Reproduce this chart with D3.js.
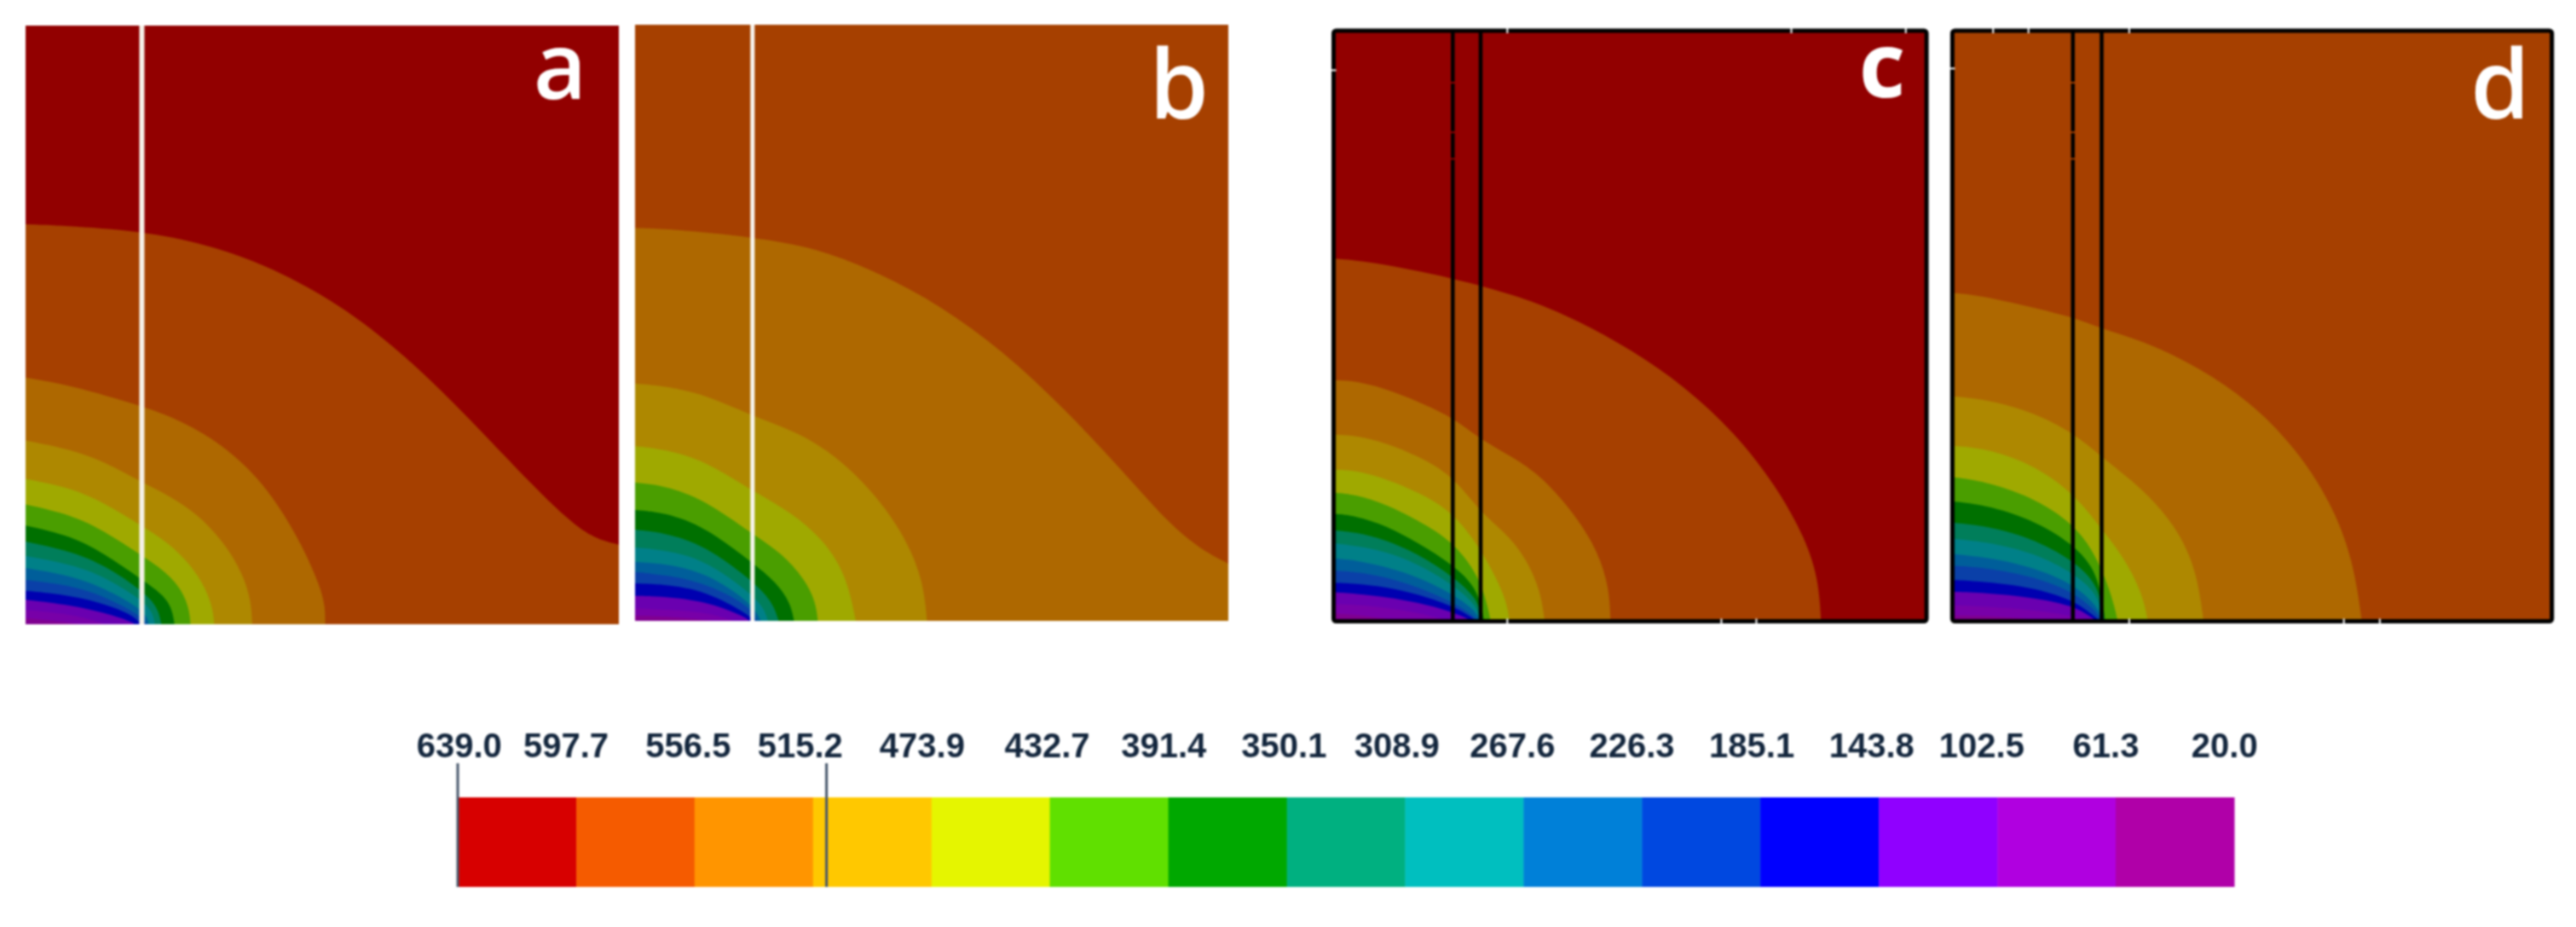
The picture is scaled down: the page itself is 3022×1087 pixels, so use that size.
<!DOCTYPE html>
<html>
<head>
<meta charset="utf-8">
<script src="https://cdn.jsdelivr.net/npm/d3@7"></script>
<style>
  html, body { margin: 0; padding: 0; background: #fff; }
  svg { display: block; filter: blur(0.9px); }
</style>
</head>
<body>
<svg id="chart"></svg>
<script>
// values on the colour bar, high to low
const legendValues = [639.0, 597.7, 556.5, 515.2, 473.9, 432.7, 391.4, 350.1, 308.9, 267.6, 226.3, 185.1, 143.8, 102.5, 61.3, 20.0];
const legendColors = ["#d70000", "#f55b00", "#ff9500", "#ffc800", "#e5f500", "#60e000", "#00a800", "#00b080", "#00bfbf", "#0080d8", "#0048e0", "#0000ff", "#9000ff", "#b000e0", "#b000a8"];
const markerValues = [639.0, 510.5];

// the same steps as they look in the shaded field
const fieldColors = ["#920000", "#a64000", "#ae6800", "#ae8800", "#9fa900", "#4a9e00", "#007000", "#007e5a", "#008088", "#005e9a", "#0a40a8", "#0000b0", "#6a00b0", "#7800a8", "#800090"];

// isotherms, [x, depth above bottom] in % of the panel
const contoursA = [
  [[0,66.8],[6.1,66.6],[19.4,65.7],[30.5,63.5],[40.3,60.1],[51.4,54.4],[61.8,46.8],[72.3,37],[82.7,26],[91.8,17],[96,14.3],[100,13.3]],
  [[0,41.2],[7.7,39.9],[19.1,36.6],[25.4,34.4],[31.6,31],[36.9,26.8],[41.7,21.4],[46.5,13.5],[49.6,6.5],[50.5,3],[50.5,0]],
  [[0,30.7],[7.7,29.2],[13.4,27.1],[19.1,24],[24.4,21.4],[29.2,18.2],[33.5,13.6],[36.6,8.5],[38,4],[38.2,0]],
  [[0,24.3],[7.7,22.8],[13.4,20.2],[19.1,16.7],[23.9,13.8],[27.8,10],[30.4,6],[31.6,2.4],[31.8,0]],
  [[0,20],[7.7,18.3],[13.4,15.5],[19.1,11.8],[23.9,8.6],[26.5,5.5],[27.6,2.4],[27.8,0]],
  [[0,16.5],[7.7,14.8],[13.4,11.7],[19.1,7.8],[23.2,5],[24.7,2.6],[25.1,0]],
  [[0,13.8],[7.7,12.2],[13.4,9.8],[19.1,6],[22.2,3.2],[22.9,0]],
  [[0,11.4],[7.7,10],[13.4,7.9],[19.1,4.4],[21.4,2.2],[21.8,0]],
  [[0,9.4],[7.7,8.1],[13.4,6],[19.1,2.8],[20.5,1.2],[20.8,0]],
  [[0,7.4],[7.7,6.5],[13.4,4.6],[19.1,1.7],[20.4,0]],
  [[0,5.6],[7.7,4.8],[13.4,3.4],[18.2,1.5],[19.4,0]],
  [[0,4.1],[7.7,3.2],[13.4,1.9],[17.7,0.5],[18.4,0]],
  [[0,2.4],[7.7,1.7],[12,0.5],[13.4,0]],
  [[0,1],[5.3,0.5],[9.1,0]]
];
const contoursB = [
  [[0,65.9],[6.3,65.7],[19.7,64.4],[30.6,62.6],[41.1,58.4],[51.5,52.9],[62,45.3],[72.4,35.6],[82.8,24.5],[89.8,16.5],[95.3,12],[100,9.6]],
  [[0,39.8],[4.9,39.4],[11.8,38],[19.7,34.4],[27.1,31.8],[34.1,27.6],[41.1,20.6],[45.9,13.4],[48.6,6.5],[49.2,0]],
  [[0,29.3],[4.9,28.8],[11.8,26.9],[19.7,21.8],[26.4,18.2],[32,13.4],[35.7,7.4],[37.2,0]],
  [[0,23.2],[4.9,22.7],[11.8,20.3],[19.7,14.6],[25,11.2],[29,6.4],[30.5,2.8],[30.8,0]],
  [[0,18.6],[4.9,18.2],[11.8,15.8],[19.7,9.8],[23.7,6.6],[26.2,3],[26.8,0]],
  [[0,15.3],[4.9,14.8],[11.8,12.7],[19.7,6.8],[23.2,3.2],[24.2,0]],
  [[0,12.3],[4.9,11.9],[11.8,10.3],[19.7,4.5],[21.8,2],[22.4,0]],
  [[0,9.9],[4.9,9.6],[11.8,8.2],[19.7,3],[21.2,0]],
  [[0,8.2],[4.9,7.7],[11.8,6.4],[19.3,2.6],[20.5,0]],
  [[0,6.3],[4.9,6.1],[11.8,5.1],[19.3,1],[19.9,0]],
  [[0,4.2],[4.9,4.1],[11.8,3.3],[18.1,0.9],[19.3,0]],
  [[0,2.1],[4.9,1.9],[11.8,1.5],[16.7,0]],
  [[0,0.9],[6.3,0.7],[13.2,0]]
];
const contoursC = [
  [[0,61.4],[5.6,61],[20.1,58.2],[32.8,54.6],[41.1,51],[50.2,46],[59.2,39.8],[67.6,32],[74.6,23],[79.6,14],[81.8,7],[82.2,0]],
  [[0,40.8],[4.1,40.7],[9.9,39],[15.1,36.8],[20,34.6],[25,30.6],[31.4,27.2],[36.2,23.4],[41,17.6],[44.6,11.8],[46.5,5.6],[46.7,0]],
  [[0,31.6],[3.6,31.5],[8.9,30.2],[14.2,28],[20,24.8],[25,18.2],[29,15],[32.4,10.8],[34.9,5.2],[35.6,0]],
  [[0,25.7],[3.6,25.6],[8.9,24.1],[14.2,21.9],[20,18.6],[24.6,12.6],[27.6,7],[29.2,3.2],[29.7,0]],
  [[0,21.8],[3.6,21.5],[8.9,19.8],[14.2,17.1],[20,13.7],[24.6,7.6],[26.1,2],[26.5,0]],
  [[0,18.2],[3.6,17.9],[8.9,16.2],[14.2,13.3],[20,9.7],[24.4,5.5],[25.4,0]],
  [[0,15.4],[3.6,15.1],[8.9,13.8],[14.2,11.4],[20,7.7],[24.4,3.8],[25,0]],
  [[0,13.2],[3.6,12.8],[8.9,11.8],[14.2,9.7],[20,6.3],[24.3,2.6],[24.7,0]],
  [[0,10.6],[3.6,10.4],[8.9,9.2],[14.2,7.5],[20,4.7],[24.2,1.6],[24.6,0]],
  [[0,8.6],[3.6,8.4],[8.9,7.5],[14.2,5.8],[20,3.3],[23.3,1.2],[24.5,0]],
  [[0,6.5],[3.6,6.4],[8.9,5.8],[14.2,4.6],[20,2.6],[22.8,1],[24.2,0]],
  [[0,4.9],[3.6,4.7],[8.9,4.1],[14.2,3.2],[19.7,1.7],[22.8,0.3],[23.8,0]],
  [[0,2.9],[3.6,2.8],[8.9,2.3],[14.2,1.5],[19.7,0]],
  [[0,1.3],[5.1,1],[11.3,0]]
];
const contoursD = [
  [[0,55.6],[5.4,55.1],[20.1,51.6],[24.9,49.5],[32.9,47.1],[41.2,42.9],[49.5,37.3],[57.1,29.6],[63.3,20],[66.9,10.2],[68.3,0]],
  [[0,38.1],[5.4,37.6],[13,35.6],[20.1,32],[24.9,27.8],[31.6,22.6],[37.1,16.4],[40.7,9],[41.9,0]],
  [[0,29.7],[5.4,29.3],[13,26.8],[20.1,21.9],[24.9,15.6],[28.8,10.6],[31.8,4.4],[32.6,0]],
  [[0,24.4],[5.4,23.7],[13,21.2],[20.1,16.7],[24,11.2],[26.6,4.4],[27.6,0]],
  [[0,20.3],[5.4,19.7],[13,17.4],[20.1,13.2],[24.4,8.2],[25.5,0]],
  [[0,16.7],[5.4,16.2],[13,14.2],[20.1,10.4],[24.4,6.2],[25.4,0]],
  [[0,14],[5.4,13.5],[13,11.8],[20.1,8.3],[24.4,4.5],[25.2,0]],
  [[0,11.4],[5.4,10.9],[13,9.3],[20.1,6.4],[24.3,2.5],[25,0]],
  [[0,9.4],[5.4,9.1],[13,7.7],[20.1,5.1],[24.1,1.6],[24.9,0]],
  [[0,7],[5.4,6.7],[13,5.8],[20.1,3.7],[23.6,0.9],[24.7,0]],
  [[0,5],[5.4,4.8],[13,4.1],[20.1,2.7],[23.3,0.6],[24,0]],
  [[0,2.7],[5.4,2.5],[13,2],[20.1,0.9],[22.9,0]],
  [[0,1],[7.4,0.9],[16.4,0]]
];

// layout (pixels)
const WIDTH = 3022;
const HEIGHT = 1087;
const BAR = { left: 537, right: 2621, top: 935, bottom: 1040 };
const LABEL_BASELINE = 888;
const MARKER_TOP = 895;
// the labels in the figure sit off their ticks by hand
const LABEL_SHIFT = [1.7, -12, -7.4, -15, -11, -3, -5.4, -3.3, -9.6, -13, -12, -10, -8.4, -18.4, -11.4, -11.2];

const panels = [
  { name: "a", contours: contoursA, firstColor: 0, left: 30, top: 30, width: 696, height: 702,
    strips: [19.6], stripColor: "#f6f2ea", stripWidth: 6, letterX: 657, letterY: 116, letterSize: 108, letterWeight: 600 },
  { name: "b", contours: contoursB, firstColor: 1, left: 745, top: 29, width: 696, height: 699,
    strips: [19.8], stripColor: "#f8f6f0", stripWidth: 5, letterX: 1383, letterY: 139, letterSize: 112, letterWeight: 600 },
  { name: "c", contours: contoursC, firstColor: 0, left: 1564.5, top: 36, width: 695.6, height: 692.5,
    strips: [20.1, 24.8], stripColor: "#000", stripWidth: 4.5, letterX: 2208, letterY: 114, letterSize: 106, letterWeight: 700, framed: true,
    nicksTop: [29.3, 77.2, 96.5], nicksBottom: [29.3, 65.4, 71.3], nicksLeft: [93.3] },
  { name: "d", contours: contoursD, firstColor: 1, left: 2290.4, top: 36, width: 703.3, height: 692.5,
    strips: [20.1, 24.9], stripColor: "#000", stripWidth: 4.5, letterX: 2933, letterY: 139, letterSize: 112, letterWeight: 600, framed: true,
    nicksTop: [6.8, 12.7, 29.5], nicksBottom: [29.5, 65.3, 71.3], nicksLeft: [93.6] }
];
const STRIP_NICKS = [91.2, 82.8, 78.3];

const svg = d3.select("#chart").attr("width", WIDTH).attr("height", HEIGHT);
const defs = svg.append("defs");

panels.forEach((p) => {
  const x = d3.scaleLinear().domain([0, 100]).range([p.left, p.left + p.width]);
  const y = d3.scaleLinear().domain([0, 100]).range([p.top + p.height, p.top]);
  const g = svg.append("g").attr("class", "panel-" + p.name);

  const colors = fieldColors.slice(p.firstColor);

  defs.append("clipPath")
    .attr("id", "clip-" + p.name)
    .append("rect")
    .attr("x", x(0))
    .attr("y", y(100))
    .attr("width", x(100) - x(0))
    .attr("height", y(0) - y(100));

  g.append("rect")
    .attr("x", x(0))
    .attr("y", y(100))
    .attr("width", x(100) - x(0))
    .attr("height", y(0) - y(100))
    .attr("fill", colors[0]);

  // basis keeps the isotherms round, the picture has no corners in them
  const band = d3
    .area()
    .x((d) => x(d[0]))
    .y0(y(0))
    .y1((d) => y(d[1]))
    .curve(d3.curveBasis);

  g.append("g")
    .attr("clip-path", "url(#clip-" + p.name + ")")
    .selectAll("path")
    .data(p.contours)
    .enter()
    .append("path")
    .attr("d", band)
    .attr("fill", (d, i) => colors[i + 1]);

  g.selectAll("line.strip")
    .data(p.strips)
    .enter()
    .append("line")
    .attr("class", "strip")
    .attr("x1", (d) => x(d))
    .attr("x2", (d) => x(d))
    .attr("y1", y(100))
    .attr("y2", y(0))
    .attr("stroke", p.stripColor)
    .attr("stroke-width", p.stripWidth);

  if (p.framed) {
    g.append("rect")
      .attr("x", x(0))
      .attr("y", y(100))
      .attr("width", x(100) - x(0))
      .attr("height", y(0) - y(100))
      .attr("rx", 3)
      .attr("fill", "none")
      .attr("stroke", "#000")
      .attr("stroke-width", 5);

    // little gaps in the black frame
    const nick = (x1, y1, x2, y2) =>
      g.append("line")
        .attr("x1", x1).attr("y1", y1).attr("x2", x2).attr("y2", y2)
        .attr("stroke", "#fff")
        .attr("stroke-width", 2);
    p.nicksTop.forEach((v) => nick(x(v), y(100) - 3, x(v), y(100) + 3));
    p.nicksBottom.forEach((v) => nick(x(v), y(0) - 3, x(v), y(0) + 3));
    p.nicksLeft.forEach((v) => nick(x(0) - 3, y(v), x(0) + 3, y(v)));
    STRIP_NICKS.forEach((v) =>
      g.append("line")
        .attr("x1", x(p.strips[0]) - 3).attr("x2", x(p.strips[0]) + 3)
        .attr("y1", y(v)).attr("y2", y(v))
        .attr("stroke", colors[0])
        .attr("stroke-width", 2)
    );
  }

  g.append("text")
    .attr("x", p.letterX)
    .attr("y", p.letterY)
    .attr("text-anchor", "middle")
    .attr("font-family", "'Open Sans', sans-serif")
    .attr("font-weight", p.letterWeight)
    .attr("font-size", p.letterSize)
    .attr("fill", "#fff")
    .text(p.name);
});

// colour bar
const legendX = d3
  .scaleLinear()
  .domain([legendValues[0], legendValues[legendValues.length - 1]])
  .range([BAR.left, BAR.right]);

const legend = svg.append("g").attr("class", "legend");

legend.selectAll("rect")
  .data(legendColors)
  .enter()
  .append("rect")
  .attr("x", (d, i) => legendX(legendValues[i]))
  .attr("y", BAR.top)
  .attr("width", (d, i) => legendX(legendValues[i + 1]) - legendX(legendValues[i]) + 0.5)
  .attr("height", BAR.bottom - BAR.top)
  .attr("fill", (d) => d);

legend.selectAll("line")
  .data(markerValues)
  .enter()
  .append("line")
  .attr("x1", (d) => legendX(d))
  .attr("x2", (d) => legendX(d))
  .attr("y1", MARKER_TOP)
  .attr("y2", BAR.bottom)
  .attr("stroke", "#46566a")
  .attr("stroke-width", 3);

legend.selectAll("text")
  .data(legendValues)
  .enter()
  .append("text")
  .attr("x", (d, i) => legendX(d) + LABEL_SHIFT[i])
  .attr("y", LABEL_BASELINE)
  .attr("text-anchor", "middle")
  .attr("font-family", "'Liberation Sans', Arial, sans-serif")
  .attr("font-weight", 700)
  .attr("font-size", 40)
  .attr("fill", "#13263d")
  .text((d) => d.toFixed(1));
</script>
</body>
</html>
